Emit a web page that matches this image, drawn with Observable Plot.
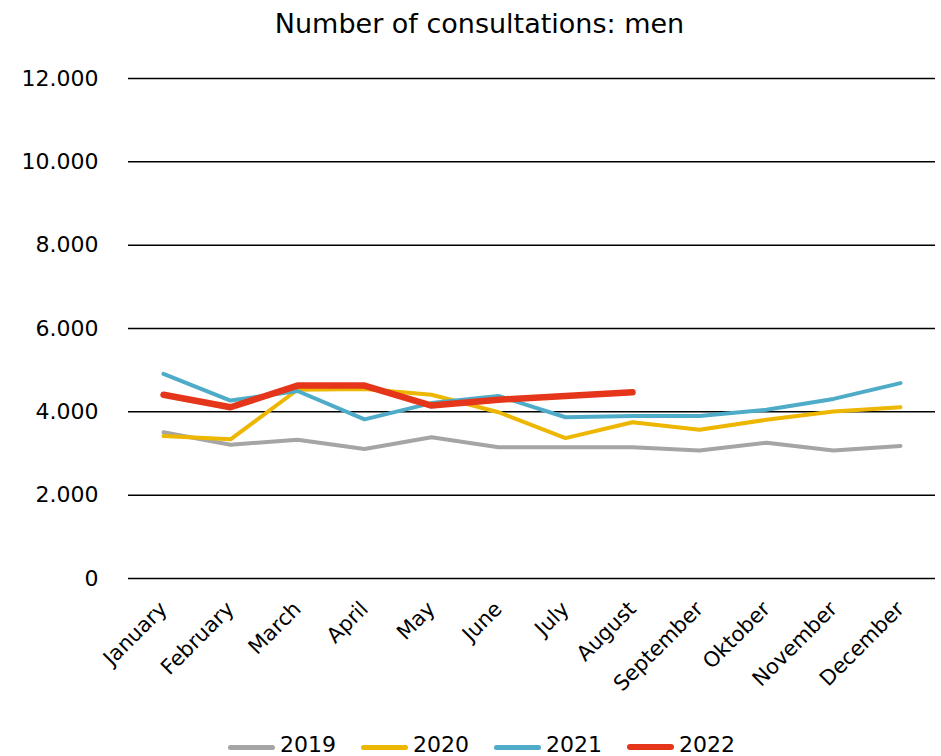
<!DOCTYPE html>
<html>
<head>
<meta charset="utf-8">
<script src="https://cdn.jsdelivr.net/npm/d3@7"></script>
<script src="https://cdn.jsdelivr.net/npm/@observablehq/plot@0.6"></script>
<style>
  body { margin: 0; background: #fff; font-family: "DejaVu Sans", sans-serif; }
  #wrap { position: relative; width: 941px; height: 756px; }
  #chart { position: absolute; left: 0; top: 0; }
  #title { position: absolute; left: 0; width: 941px; top: 10px; line-height: 27px; text-align: center; font-size: 27px; color: #000; padding-left: 18px; box-sizing: border-box; white-space: nowrap; }
  #legend { position: absolute; left: 228px; top: 734px; display: flex; align-items: center; font-size: 22px; line-height: 22px; color: #000; }
  .item { display: flex; align-items: center; margin-right: 25px; }
  .sw { width: 47px; border-radius: 3px; margin-right: 5px; margin-top: 4px; }
</style>
</head>
<body>
<div id="wrap">
<div id="chart"></div>
<div id="title">Number of consultations: men</div>
<div id="legend"></div>
</div>
<script>
const months = ["January","February","March","April","May","June","July","August","September","Oktober","November","December"];
const years = ["2019","2020","2021","2022"];
const colors = ["#a5a5a5","#edb600","#4eacc8","#e5361b"];
const widths = [4, 4, 4, 6.5];
const v2019 = [3510,3210,3330,3110,3390,3150,3150,3150,3070,3260,3070,3180];
const v2020 = [3420,3340,4530,4550,4410,3990,3370,3750,3570,3810,4010,4110];
const v2021 = [4910,4270,4500,3820,4210,4380,3870,3900,3900,4050,4310,4690];
const v2022 = [4410,4110,4630,4630,4150,4290,4380,4470];
const yTicks = [0,2000,4000,6000,8000,10000,12000];

const series = [v2019, v2020, v2021, v2022];
const data = [];
series.forEach((vals, i) => vals.forEach((v, j) => data.push({year: years[i], month: months[j], value: v})));

const fmt = d => d === 0 ? "0" : d3.format(",")(d).replace(/,/g, ".");

const chart = Plot.plot({
  width: 941,
  height: 720,
  marginLeft: 128,
  marginRight: 6,
  marginTop: 78,
  marginBottom: 142,
  style: {fontFamily: "DejaVu Sans, sans-serif", color: "#000", background: "transparent"},
  x: {type: "point", domain: months, padding: 0.5, label: null},
  y: {domain: [0, 12000], ticks: yTicks, label: null},
  marks: [
    Plot.ruleY(yTicks, {stroke: "#000", strokeWidth: 1.5}),
    Plot.axisY({ticks: yTicks, tickSize: 0, tickPadding: 30, tickFormat: fmt, fontSize: 22, label: null}),
    Plot.axisX({tickSize: 0, tickRotate: -45, tickPadding: 27, fontSize: 21, label: null}),
    ...years.map((y, i) => Plot.line(data.filter(d => d.year === y), {
      x: "month", y: "value", stroke: colors[i], strokeWidth: widths[i],
      strokeLinecap: "round", strokeLinejoin: "round"
    }))
  ]
});
document.getElementById("chart").appendChild(chart);

const legend = document.getElementById("legend");
years.forEach((y, i) => {
  const it = document.createElement("div");
  it.className = "item";
  it.innerHTML = `<div class="sw" style="background:${colors[i]};height:${i === 3 ? 6 : 5}px"></div><span>${y}</span>`;
  legend.appendChild(it);
});
</script>
</body>
</html>
